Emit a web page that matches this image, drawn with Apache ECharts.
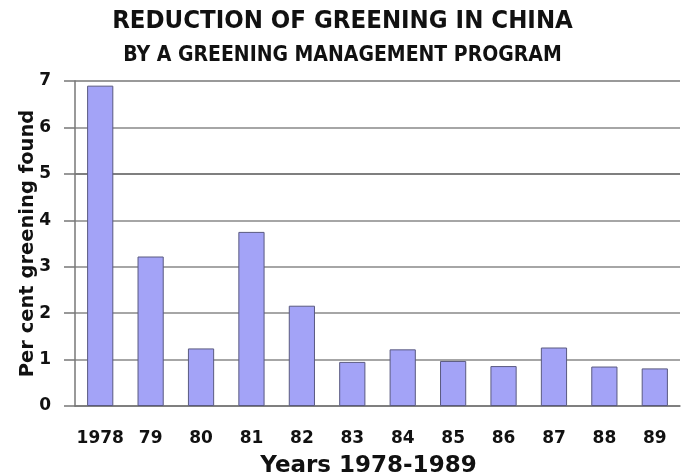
<!DOCTYPE html>
<html><head><meta charset="utf-8">
<script src="https://cdn.jsdelivr.net/npm/echarts@6/dist/echarts.min.js"></script>
<style>html,body{margin:0;padding:0;background:#fff}#c{width:685px;height:474px}</style>
</head><body><div id="c"></div>
<script>
const categories = ['1978','79','80','81','82','83','84','85','86','87','88','89'];
const values = [6.9, 3.22, 1.24, 3.75, 2.16, 0.95, 1.22, 0.97, 0.86, 1.26, 0.85, 0.81];
const yTicks = [0,1,2,3,4,5,6,7];

const chart = echarts.init(document.getElementById('c'));
chart.setOption({
  backgroundColor: '#fff',
  animation: false,
  title: [
    {text: 'REDUCTION OF GREENING IN CHINA', left: 'center', top: 3,
     textStyle: {fontFamily: 'DejaVu Sans Condensed', fontWeight: 'bold', fontSize: 25.5, color: '#111'}},
    {text: 'BY A GREENING MANAGEMENT PROGRAM', left: 'center', top: 40,
     textStyle: {fontFamily: 'DejaVu Sans Condensed', fontWeight: 'bold', fontSize: 21, color: '#111'}}
  ],
  grid: {left: 75, right: 5, top: 81, bottom: 68, outerBoundsMode: 'none', containLabel: false},
  xAxis: {
    type: 'category', data: categories,
    name: 'Years 1978-1989', nameLocation: 'middle', nameGap: 49,
    nameTextStyle: {fontFamily: 'DejaVu Sans', fontWeight: 'bold', fontSize: 23, color: '#111', padding: [0,18,0,0]},
    axisLine: {lineStyle: {color: '#777', width: 1.5}},
    axisTick: {alignWithLabel: true, length: 10, lineStyle: {color: '#777', width: 1.5}},
    axisLabel: {interval: 0, hideOverlap: false, fontFamily: 'DejaVu Sans', fontWeight: 'bold', fontSize: 17, color: '#111', margin: 24}
  },
  yAxis: {
    type: 'value', min: 0, max: 7, interval: 1,
    name: 'Per cent greening found', nameLocation: 'middle', nameGap: 37, nameRotate: 90,
    nameMoveOverlap: false,
    nameTextStyle: {fontFamily: 'DejaVu Sans', fontWeight: 'bold', fontSize: 19.5, color: '#111'},
    axisLine: {show: true, lineStyle: {color: '#777', width: 1.5}},
    axisTick: {show: true, length: 11, lineStyle: {color: '#777', width: 1.5}},
    axisLabel: {fontFamily: 'DejaVu Sans', fontWeight: 'bold', fontSize: 17, color: '#111', margin: 24,
      formatter: v => yTicks.includes(v) ? String(v) : ''},
    splitLine: {lineStyle: {color: ['#777','#888','#888','#888','#888','#555','#888','#777'], width: 1.5}}
  },
  series: [{
    type: 'bar', data: values, barWidth: '52%',
    itemStyle: {color: '#a3a3f7', borderColor: '#5a5a80', borderWidth: 1}
  }]
});
</script></body></html>
